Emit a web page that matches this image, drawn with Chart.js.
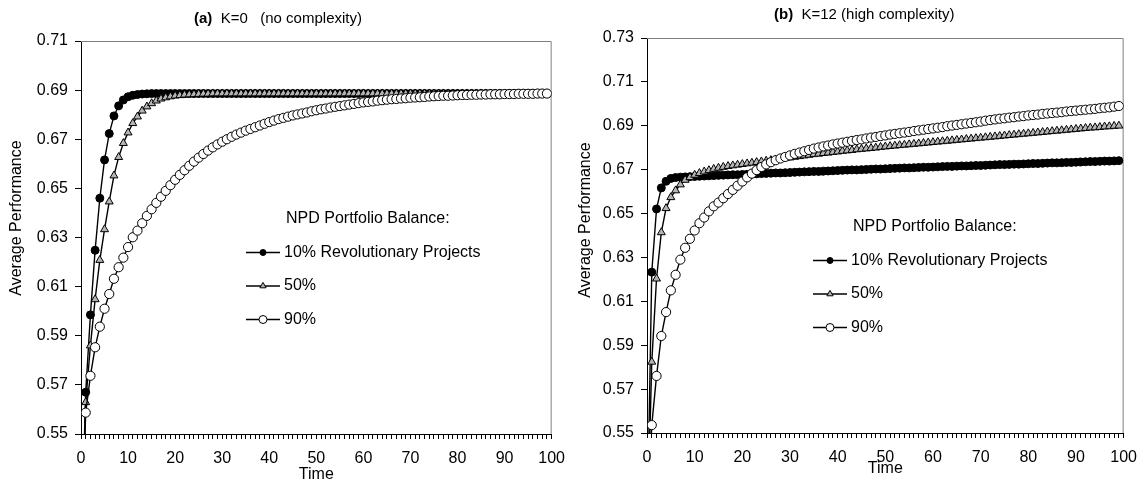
<!DOCTYPE html>
<html>
<head>
<meta charset="utf-8">
<script src="https://cdn.jsdelivr.net/npm/chart.js@4.4.0/dist/chart.umd.min.js"></script>
<style>
body { margin: 0; background: #fff; width: 1140px; height: 489px; overflow: hidden; position: relative; }
canvas { position: absolute; top: 0; }
#graficoA { left: 0; }
#graficoB { left: 570px; }
</style>
</head>
<body>
<canvas id="graficoA" width="575" height="489"></canvas>
<canvas id="graficoB" width="577" height="489"></canvas>
<script>
// eixo do tempo (0..99)
const tempo = [
  0, 1, 2, 3, 4, 5, 6, 7, 8, 9, 10, 11, 12, 13, 14, 15, 16, 17, 18, 19,
  20, 21, 22, 23, 24, 25, 26, 27, 28, 29, 30, 31, 32, 33, 34, 35, 36, 37, 38, 39,
  40, 41, 42, 43, 44, 45, 46, 47, 48, 49, 50, 51, 52, 53, 54, 55, 56, 57, 58, 59,
  60, 61, 62, 63, 64, 65, 66, 67, 68, 69, 70, 71, 72, 73, 74, 75, 76, 77, 78, 79,
  80, 81, 82, 83, 84, 85, 86, 87, 88, 89, 90, 91, 92, 93, 94, 95, 96, 97, 98, 99
]

const nomesSeries = ['10% Revolutionary Projects', '50%', '90%']

// (a) K=0
const k0_10 = [
  0.5000, 0.5670, 0.5985, 0.6248, 0.6460, 0.6616, 0.6723, 0.6795, 0.6836, 0.6860,
  0.6873, 0.6879, 0.6882, 0.6884, 0.6885, 0.6886, 0.6886, 0.6886, 0.6886, 0.6886,
  0.6886, 0.6886, 0.6886, 0.6886, 0.6886, 0.6886, 0.6886, 0.6886, 0.6886, 0.6886,
  0.6886, 0.6886, 0.6886, 0.6886, 0.6886, 0.6886, 0.6886, 0.6886, 0.6886, 0.6886,
  0.6886, 0.6886, 0.6886, 0.6886, 0.6886, 0.6886, 0.6886, 0.6886, 0.6886, 0.6886,
  0.6886, 0.6886, 0.6886, 0.6886, 0.6886, 0.6886, 0.6886, 0.6886, 0.6886, 0.6886,
  0.6886, 0.6886, 0.6886, 0.6886, 0.6886, 0.6886, 0.6886, 0.6886, 0.6886, 0.6886,
  0.6886, 0.6886, 0.6886, 0.6886, 0.6886, 0.6886, 0.6886, 0.6886, 0.6886, 0.6886,
  0.6886, 0.6886, 0.6886, 0.6886, 0.6886, 0.6886, 0.6886, 0.6886, 0.6886, 0.6886,
  0.6886, 0.6886, 0.6886, 0.6886, 0.6886, 0.6886, 0.6886, 0.6886, 0.6886, 0.6886
]
const k0_50 = [
  0.5000, 0.5629, 0.5860, 0.6048, 0.6208, 0.6333, 0.6446, 0.6552, 0.6627, 0.6684,
  0.6727, 0.6765, 0.6792, 0.6816, 0.6833, 0.6846, 0.6857, 0.6865, 0.6870, 0.6874,
  0.6877, 0.6879, 0.6881, 0.6882, 0.6883, 0.6884, 0.6885, 0.6885, 0.6886, 0.6886,
  0.6886, 0.6886, 0.6886, 0.6886, 0.6886, 0.6886, 0.6886, 0.6886, 0.6886, 0.6886,
  0.6886, 0.6886, 0.6886, 0.6886, 0.6886, 0.6886, 0.6886, 0.6886, 0.6886, 0.6886,
  0.6886, 0.6886, 0.6886, 0.6886, 0.6886, 0.6886, 0.6886, 0.6886, 0.6886, 0.6886,
  0.6886, 0.6886, 0.6886, 0.6886, 0.6886, 0.6886, 0.6886, 0.6886, 0.6886, 0.6886,
  0.6886, 0.6886, 0.6886, 0.6886, 0.6886, 0.6886, 0.6886, 0.6886, 0.6886, 0.6886,
  0.6886, 0.6886, 0.6886, 0.6886, 0.6886, 0.6886, 0.6886, 0.6886, 0.6886, 0.6886,
  0.6886, 0.6886, 0.6886, 0.6886, 0.6886, 0.6886, 0.6886, 0.6886, 0.6886, 0.6886
]
const k0_90 = [
  0.5000, 0.5587, 0.5737, 0.5853, 0.5937, 0.6010, 0.6070, 0.6132, 0.6179, 0.6218,
  0.6261, 0.6301, 0.6328, 0.6358, 0.6388, 0.6415, 0.6441, 0.6466, 0.6490, 0.6513,
  0.6535, 0.6555, 0.6574, 0.6592, 0.6609, 0.6625, 0.6640, 0.6654, 0.6667, 0.6679,
  0.6690, 0.6700, 0.6710, 0.6719, 0.6727, 0.6735, 0.6742, 0.6749, 0.6756, 0.6763,
  0.6770, 0.6776, 0.6782, 0.6787, 0.6792, 0.6797, 0.6801, 0.6805, 0.6809, 0.6814,
  0.6818, 0.6822, 0.6825, 0.6829, 0.6832, 0.6835, 0.6838, 0.6841, 0.6844, 0.6847,
  0.6850, 0.6852, 0.6854, 0.6857, 0.6859, 0.6861, 0.6863, 0.6864, 0.6866, 0.6867,
  0.6869, 0.6870, 0.6871, 0.6872, 0.6874, 0.6875, 0.6876, 0.6877, 0.6877, 0.6878,
  0.6879, 0.6880, 0.6880, 0.6881, 0.6881, 0.6882, 0.6882, 0.6883, 0.6883, 0.6883,
  0.6884, 0.6884, 0.6884, 0.6885, 0.6885, 0.6885, 0.6885, 0.6886, 0.6886, 0.6886
]

// (b) K=12
const k12_10 = [
  0.5000, 0.6233, 0.6521, 0.6617, 0.6647, 0.6660, 0.6664, 0.6666, 0.6667, 0.6668,
  0.6669, 0.6670, 0.6671, 0.6672, 0.6673, 0.6674, 0.6675, 0.6676, 0.6677, 0.6677,
  0.6678, 0.6679, 0.6680, 0.6681, 0.6682, 0.6683, 0.6684, 0.6685, 0.6685, 0.6686,
  0.6687, 0.6688, 0.6689, 0.6690, 0.6691, 0.6692, 0.6692, 0.6693, 0.6694, 0.6695,
  0.6696, 0.6697, 0.6698, 0.6699, 0.6699, 0.6700, 0.6701, 0.6702, 0.6703, 0.6703,
  0.6704, 0.6705, 0.6706, 0.6707, 0.6708, 0.6708, 0.6709, 0.6710, 0.6711, 0.6711,
  0.6712, 0.6713, 0.6714, 0.6715, 0.6715, 0.6716, 0.6717, 0.6717, 0.6718, 0.6719,
  0.6719, 0.6720, 0.6721, 0.6722, 0.6723, 0.6723, 0.6724, 0.6725, 0.6725, 0.6726,
  0.6727, 0.6728, 0.6728, 0.6729, 0.6730, 0.6731, 0.6731, 0.6732, 0.6733, 0.6733,
  0.6734, 0.6735, 0.6736, 0.6737, 0.6737, 0.6738, 0.6739, 0.6739, 0.6740, 0.6741
]
const k12_50 = [
  0.5000, 0.5824, 0.6203, 0.6414, 0.6524, 0.6574, 0.6605, 0.6632, 0.6653, 0.6665,
  0.6676, 0.6684, 0.6691, 0.6697, 0.6703, 0.6708, 0.6712, 0.6716, 0.6719, 0.6722,
  0.6725, 0.6728, 0.6731, 0.6734, 0.6737, 0.6740, 0.6743, 0.6746, 0.6749, 0.6752,
  0.6755, 0.6758, 0.6761, 0.6764, 0.6767, 0.6770, 0.6772, 0.6775, 0.6777, 0.6780,
  0.6782, 0.6785, 0.6787, 0.6789, 0.6792, 0.6794, 0.6796, 0.6798, 0.6800, 0.6803,
  0.6805, 0.6807, 0.6809, 0.6811, 0.6813, 0.6815, 0.6817, 0.6819, 0.6821, 0.6823,
  0.6825, 0.6827, 0.6829, 0.6831, 0.6833, 0.6835, 0.6837, 0.6839, 0.6841, 0.6843,
  0.6845, 0.6847, 0.6849, 0.6851, 0.6853, 0.6855, 0.6857, 0.6859, 0.6861, 0.6863,
  0.6865, 0.6867, 0.6869, 0.6871, 0.6873, 0.6875, 0.6877, 0.6879, 0.6881, 0.6883,
  0.6885, 0.6887, 0.6889, 0.6891, 0.6892, 0.6894, 0.6896, 0.6897, 0.6899, 0.6900
]
const k12_90 = [
  0.5000, 0.5536, 0.5760, 0.5942, 0.6051, 0.6150, 0.6221, 0.6290, 0.6344, 0.6385,
  0.6423, 0.6456, 0.6482, 0.6510, 0.6533, 0.6550, 0.6570, 0.6589, 0.6608, 0.6627,
  0.6646, 0.6665, 0.6682, 0.6698, 0.6712, 0.6724, 0.6734, 0.6743, 0.6751, 0.6758,
  0.6765, 0.6772, 0.6778, 0.6784, 0.6790, 0.6796, 0.6801, 0.6806, 0.6810, 0.6815,
  0.6819, 0.6823, 0.6827, 0.6831, 0.6835, 0.6838, 0.6842, 0.6846, 0.6849, 0.6853,
  0.6856, 0.6860, 0.6863, 0.6866, 0.6869, 0.6872, 0.6876, 0.6879, 0.6882, 0.6885,
  0.6888, 0.6891, 0.6894, 0.6898, 0.6901, 0.6904, 0.6907, 0.6910, 0.6913, 0.6916,
  0.6919, 0.6923, 0.6926, 0.6929, 0.6932, 0.6934, 0.6937, 0.6939, 0.6942, 0.6944,
  0.6947, 0.6949, 0.6951, 0.6954, 0.6956, 0.6958, 0.6960, 0.6962, 0.6965, 0.6967,
  0.6969, 0.6971, 0.6973, 0.6975, 0.6977, 0.6980, 0.6982, 0.6984, 0.6987, 0.6990
]

const FONTE = '"Liberation Sans", Arial, Helvetica, sans-serif'

// estilo de cada serie: 10% bolinha preta, 50% triangulo cinza, 90% bolinha branca
const estilos = [
  { ponto: 'circle', fundo: '#000000', raio: 4, raioLegenda: 3, ordem: 3 },
  { ponto: 'triangle', fundo: '#b4b4b4', raio: 4.6, raioLegenda: 3.6, ordem: 2 },
  { ponto: 'circle', fundo: '#ffffff', raio: 4.6, raioLegenda: 4, ordem: 1 }
]

function desenharMarcador(ctx, estilo, x, y, r) {
  ctx.beginPath()
  if (estilo.ponto === 'triangle') {
    let rad = 0
    for (let i = 0; i < 3; i++) {
      const px = x + Math.sin(rad) * r
      const py = y - Math.cos(rad) * r
      if (i === 0) ctx.moveTo(px, py)
      else ctx.lineTo(px, py)
      rad += Math.PI * 2 / 3
    }
    ctx.closePath()
  } else {
    ctx.arc(x, y, r, 0, Math.PI * 2)
  }
  ctx.fillStyle = estilo.fundo
  ctx.fill()
  ctx.lineWidth = 1
  ctx.strokeStyle = '#000'
  ctx.stroke()
}

function pluginTextos(cfg) {
  return {
    id: 'textos',
    beforeDatasetsDraw(chart) {
      // moldura cinza (topo e direita) da area do grafico
      const ctx = chart.ctx
      const a = chart.chartArea
      ctx.save()
      ctx.strokeStyle = '#808080'
      ctx.lineWidth = 1
      ctx.beginPath()
      ctx.moveTo(a.left, a.top + 0.5)
      ctx.lineTo(a.right - 0.5, a.top + 0.5)
      ctx.lineTo(a.right - 0.5, a.bottom)
      ctx.stroke()
      ctx.restore()
    },
    afterDraw(chart) {
      const ctx = chart.ctx
      const a = chart.chartArea
      ctx.save()
      ctx.fillStyle = '#000'
      ctx.textBaseline = 'middle'
      ctx.textAlign = 'left'

      // titulo do painel
      ctx.font = 'bold 15px ' + FONTE
      ctx.fillText(cfg.rotulo, cfg.tituloX, cfg.tituloY)
      const w = ctx.measureText(cfg.rotulo).width
      ctx.font = '15px ' + FONTE
      ctx.fillText(cfg.titulo, cfg.tituloX + w, cfg.tituloY)

      // titulos dos eixos
      ctx.font = '16px ' + FONTE
      ctx.textAlign = 'center'
      ctx.fillText('Time', (a.left + a.right) / 2, cfg.tempoY)
      ctx.save()
      ctx.translate(cfg.eixoYX, cfg.eixoYY)
      ctx.rotate(-Math.PI / 2)
      ctx.fillText('Average Performance', 0, 0)
      ctx.restore()

      // legenda dentro da area
      ctx.textAlign = 'left'
      ctx.fillText('NPD Portfolio Balance:', cfg.legX + 40, cfg.legY)
      chart.data.datasets.forEach((ds, i) => {
        const y = cfg.legY + 33.5 * (i + 1)
        ctx.beginPath()
        ctx.strokeStyle = '#000'
        ctx.lineWidth = 1.3
        ctx.moveTo(cfg.legX, y)
        ctx.lineTo(cfg.legX + 34, y)
        ctx.stroke()
        desenharMarcador(ctx, estilos[i], cfg.legX + 17, y, estilos[i].raioLegenda)
        ctx.fillStyle = '#000'
        ctx.fillText(ds.label, cfg.legX + 38, y)
      })
      ctx.restore()
    }
  }
}

function plotarPainel(id, series, yMax, cfg) {
  const grafico = {
    labels: tempo,
    datasets: series.map((dados, i) => ({
      label: nomesSeries[i],
      data: dados,
      borderColor: '#000',
      borderWidth: 1.4,
      pointStyle: estilos[i].ponto,
      pointRadius: estilos[i].raio,
      pointBackgroundColor: estilos[i].fundo,
      pointBorderColor: '#000',
      pointBorderWidth: 1,
      order: estilos[i].ordem,
      tension: 0
    }))
  }

  new Chart(document.getElementById(id), {
    type: 'line',
    data: grafico,
    options: {
      responsive: false,
      animation: false,
      devicePixelRatio: 1,
      layout: { padding: { left: 0, right: 0, top: cfg.padTopo, bottom: cfg.padBaixo } },
      plugins: {
        legend: { display: false },
        title: { display: false },
        tooltip: { enabled: false }
      },
      scales: {
        x: {
          type: 'linear',
          min: 0,
          max: 100,
          afterFit: s => { s.height = 40 },
          grid: { drawOnChartArea: false, drawTicks: true, tickLength: 5, color: '#000', lineWidth: 1 },
          border: { display: true, color: '#000', width: 1 },
          ticks: {
            stepSize: 1,
            autoSkip: false,
            maxRotation: 0,
            padding: 10,
            color: '#000',
            font: { family: FONTE, size: 16 },
            callback: v => (v % 10 === 0 ? String(v) : '')
          }
        },
        y: {
          min: 0.55,
          max: yMax,
          afterFit: s => { s.width = cfg.larguraY },
          grid: { drawOnChartArea: false, drawTicks: true, tickLength: 6, color: '#000', lineWidth: 1 },
          border: { display: true, color: '#000', width: 1 },
          ticks: {
            stepSize: 0.02,
            padding: 7,
            color: '#000',
            font: { family: FONTE, size: 16 },
            callback: v => Number(v).toFixed(2)
          }
        }
      }
    },
    plugins: [pluginTextos(cfg)]
  })
}

plotarPainel('graficoA', [k0_10, k0_50, k0_90], 0.71, {
  larguraY: 81, padTopo: 41, padBaixo: 15,
  rotulo: '(a)', titulo: '  K=0   (no complexity)', tituloX: 194, tituloY: 19,
  tempoY: 475, eixoYX: 17, eixoYY: 218,
  legX: 246, legY: 219
})

plotarPainel('graficoB', [k12_10, k12_50, k12_90], 0.73, {
  larguraY: 77, padTopo: 38, padBaixo: 16,
  rotulo: '(b)', titulo: '  K=12 (high complexity)', tituloX: 204, tituloY: 15,
  tempoY: 469, eixoYX: 16, eixoYY: 220,
  legX: 243, legY: 227
})
</script>
</body>
</html>
